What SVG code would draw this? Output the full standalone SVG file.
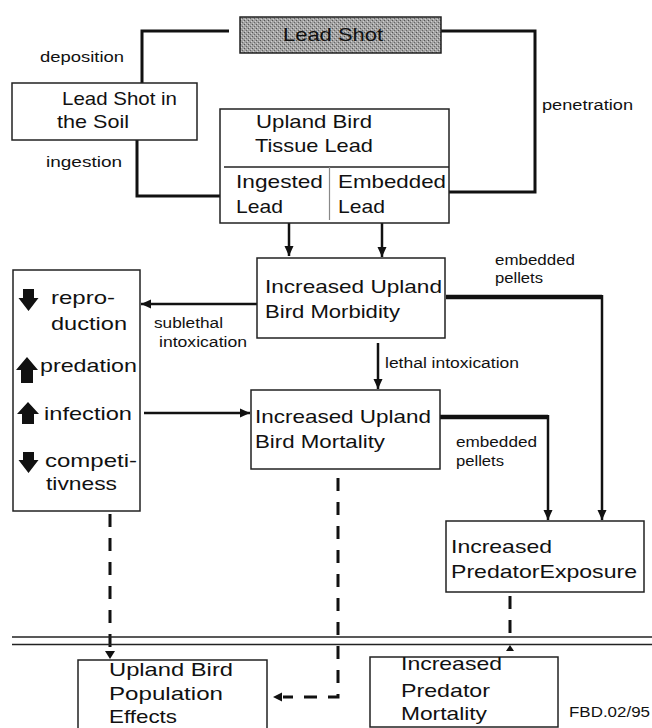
<svg xmlns="http://www.w3.org/2000/svg" width="652" height="728" viewBox="0 0 652 728">
<style>
text{font-family:"Liberation Sans",Arial,Helvetica,sans-serif;fill:#111}
.t{font-size:19px}
.l{font-size:14px}
.box{fill:#fff;stroke:#222;stroke-width:1.5}
.c{fill:none;stroke:#111;stroke-width:3}
.a{fill:none;stroke:#111;stroke-width:2.5}
.d{fill:none;stroke:#111;stroke-width:3;stroke-dasharray:13 11}
.icon{fill:#111}
</style>
<defs>
<marker id="ah" markerUnits="userSpaceOnUse" markerWidth="10" markerHeight="10" refX="10" refY="5" orient="auto">
<path d="M0,0.5 L10,5 L0,9.5 z" fill="#111"/>
</marker>
<pattern id="stip" width="4" height="4" patternUnits="userSpaceOnUse">
<rect width="4" height="4" fill="#a2a2a2"/>
<rect x="0" y="0" width="1" height="1" fill="#555"/>
<rect x="2" y="2" width="1" height="1" fill="#666"/>
<rect x="3" y="1" width="1" height="1" fill="#d0d0d0"/>
<rect x="1" y="3" width="1" height="1" fill="#d0d0d0"/>
</pattern>
</defs>

<g id="connectors">
<polyline class="c" points="229,31 142,31 142,83"/>
<polyline class="c" points="137,140 137,196 220,196"/>
<polyline class="c" points="441,31 535,31 535,192 449,192"/>
<line class="a" x1="289" y1="223" x2="289" y2="256" marker-end="url(#ah)"/>
<line class="a" x1="382" y1="223" x2="382" y2="257" marker-end="url(#ah)"/>
<line class="a" x1="257" y1="304" x2="141" y2="304" marker-end="url(#ah)"/>
<line x1="446" y1="297" x2="602" y2="297" stroke="#111" stroke-width="4.5"/>
<line class="a" x1="602" y1="295" x2="602" y2="520" marker-end="url(#ah)"/>
<line class="a" x1="378" y1="343" x2="378" y2="389" marker-end="url(#ah)"/>
<line class="a" x1="144" y1="413" x2="250" y2="413" marker-end="url(#ah)"/>
<line x1="440" y1="417" x2="548" y2="417" stroke="#111" stroke-width="4.5"/>
<line class="a" x1="548" y1="415" x2="548" y2="520" marker-end="url(#ah)"/>
<line class="d" x1="110" y1="514" x2="110" y2="652"/>
<path d="M105,651 L115,651 L110,659 z" fill="#111"/>
<polyline class="d" points="338,478 338,697 283,697"/>
<path d="M282,692.5 L282,701.5 L273,697 z" fill="#111"/>
<line class="d" x1="510" y1="596" x2="510" y2="640"/>
<path d="M506,651 L514,651 L510,645 z" fill="#111"/>
<line x1="12" y1="637" x2="652" y2="637" stroke="#222" stroke-width="1.5"/>
<line x1="12" y1="644.5" x2="652" y2="644.5" stroke="#222" stroke-width="1.5"/>
</g>

<g id="lead-shot">
<rect x="240" y="17" width="201" height="36" fill="url(#stip)" stroke="#222" stroke-width="1.5"/>
<text class="t" x="283" y="41" textLength="100" lengthAdjust="spacingAndGlyphs">Lead Shot</text>
</g>

<g id="lead-shot-soil">
<rect class="box" x="12" y="83" width="185" height="57"/>
<text class="t" x="62" y="105" textLength="115" lengthAdjust="spacingAndGlyphs">Lead Shot in</text>
<text class="t" x="57" y="128" textLength="72" lengthAdjust="spacingAndGlyphs">the Soil</text>
</g>

<g id="tissue-lead">
<rect class="box" x="220" y="109" width="229" height="114"/>
<line x1="224" y1="167" x2="449" y2="167" stroke="#222" stroke-width="1.5"/>
<line x1="329.5" y1="167" x2="329.5" y2="220" stroke="#888" stroke-width="1.2"/>
<text class="t" x="256" y="128" textLength="116" lengthAdjust="spacingAndGlyphs">Upland Bird</text>
<text class="t" x="255" y="152" textLength="118" lengthAdjust="spacingAndGlyphs">Tissue Lead</text>
<text class="t" x="236" y="188" textLength="87" lengthAdjust="spacingAndGlyphs">Ingested</text>
<text class="t" x="236" y="213" textLength="47" lengthAdjust="spacingAndGlyphs">Lead</text>
<text class="t" x="338" y="188" textLength="108" lengthAdjust="spacingAndGlyphs">Embedded</text>
<text class="t" x="338" y="213" textLength="47" lengthAdjust="spacingAndGlyphs">Lead</text>
</g>

<g id="morbidity">
<rect class="box" x="257" y="258" width="188" height="80"/>
<text class="t" x="265" y="293" textLength="177" lengthAdjust="spacingAndGlyphs">Increased Upland</text>
<text class="t" x="265" y="318" textLength="135" lengthAdjust="spacingAndGlyphs">Bird Morbidity</text>
</g>

<g id="effects-list">
<rect class="box" x="13" y="270" width="127" height="241"/>
<path class="icon" d="M23,289 H34 V298 H38.5 L28.5,311 L18.5,298 H23 Z"/>
<path class="icon" d="M27,357 L38,370 H33 V383 H21 V370 H16 Z"/>
<path class="icon" d="M28,402 L39,414 H34 V424 H22 V414 H17 Z"/>
<path class="icon" d="M23,452 H34 V460 H38.5 L28.5,473 L18.5,460 H23 Z"/>
<text class="t" x="51" y="304" textLength="64" lengthAdjust="spacingAndGlyphs">repro-</text>
<text class="t" x="51" y="330" textLength="76" lengthAdjust="spacingAndGlyphs">duction</text>
<text class="t" x="40" y="372" textLength="97" lengthAdjust="spacingAndGlyphs">predation</text>
<text class="t" x="44" y="420" textLength="88" lengthAdjust="spacingAndGlyphs">infection</text>
<text class="t" x="45" y="467" textLength="92" lengthAdjust="spacingAndGlyphs">competi-</text>
<text class="t" x="46" y="490" textLength="71" lengthAdjust="spacingAndGlyphs">tivness</text>
</g>

<g id="mortality">
<rect class="box" x="251" y="390" width="189" height="79"/>
<text class="t" x="255" y="423" textLength="176" lengthAdjust="spacingAndGlyphs">Increased Upland</text>
<text class="t" x="255" y="448" textLength="130" lengthAdjust="spacingAndGlyphs">Bird Mortality</text>
</g>

<g id="predator-exposure">
<rect class="box" x="446" y="521" width="198" height="71"/>
<text class="t" x="451" y="553" textLength="101" lengthAdjust="spacingAndGlyphs">Increased</text>
<text class="t" x="451" y="578" textLength="186" lengthAdjust="spacingAndGlyphs">PredatorExposure</text>
</g>

<g id="population-effects">
<rect class="box" x="78" y="660" width="189" height="80"/>
<text class="t" x="109" y="676" textLength="124" lengthAdjust="spacingAndGlyphs">Upland Bird</text>
<text class="t" x="109" y="700" textLength="114" lengthAdjust="spacingAndGlyphs">Population</text>
<text class="t" x="109" y="723" textLength="68" lengthAdjust="spacingAndGlyphs">Effects</text>
</g>

<g id="predator-mortality">
<rect class="box" x="370" y="657" width="188" height="70"/>
<text class="t" x="401" y="670" textLength="101" lengthAdjust="spacingAndGlyphs">Increased</text>
<text class="t" x="401" y="697" textLength="89" lengthAdjust="spacingAndGlyphs">Predator</text>
<text class="t" x="401" y="720" textLength="86" lengthAdjust="spacingAndGlyphs">Mortality</text>
</g>

<g id="labels">
<text class="l" x="40" y="62" textLength="84" lengthAdjust="spacingAndGlyphs">deposition</text>
<text class="l" x="46" y="167" textLength="76" lengthAdjust="spacingAndGlyphs">ingestion</text>
<text class="l" x="542" y="110" textLength="91" lengthAdjust="spacingAndGlyphs">penetration</text>
<text class="l" x="495" y="265" textLength="80" lengthAdjust="spacingAndGlyphs">embedded</text>
<text class="l" x="495" y="283" textLength="48" lengthAdjust="spacingAndGlyphs">pellets</text>
<text class="l" x="154" y="328" textLength="69" lengthAdjust="spacingAndGlyphs">sublethal</text>
<text class="l" x="159" y="347" textLength="88" lengthAdjust="spacingAndGlyphs">intoxication</text>
<text class="l" x="385" y="368" textLength="134" lengthAdjust="spacingAndGlyphs">lethal intoxication</text>
<text class="l" x="456" y="447" textLength="81" lengthAdjust="spacingAndGlyphs">embedded</text>
<text class="l" x="456" y="466" textLength="48" lengthAdjust="spacingAndGlyphs">pellets</text>
<text class="l" x="569" y="717" font-size="13" textLength="81" lengthAdjust="spacingAndGlyphs">FBD.02/95</text>
</g>
</svg>
